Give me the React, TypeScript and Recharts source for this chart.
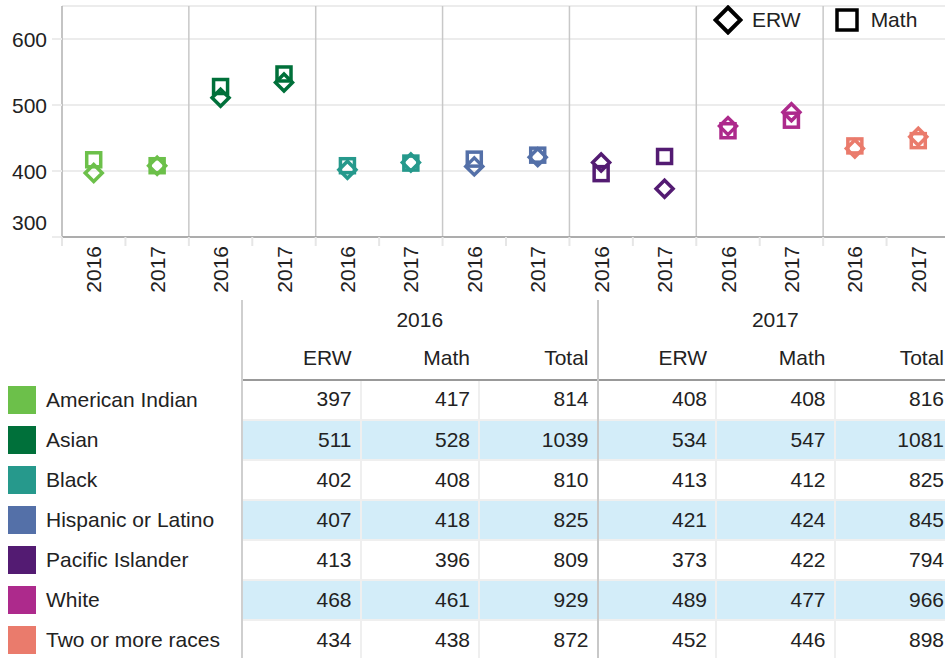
import React from 'react'
import { ScatterChart, Scatter, XAxis, YAxis, CartesianGrid, ReferenceLine, Legend } from 'recharts'

const groups = ['American Indian', 'Asian', 'Black', 'Hispanic or Latino', 'Pacific Islander', 'White', 'Two or more races']
const groupColors = ['#6cc04a', '#00703a', '#26998c', '#5470a8', '#531b72', '#ad2a8c', '#ea7b6c']
const years = ['2016', '2017']
const erw2016 = [397, 511, 402, 407, 413, 468, 434]
const math2016 = [417, 528, 408, 418, 396, 461, 438]
const total2016 = [814, 1039, 810, 825, 809, 929, 872]
const erw2017 = [408, 534, 413, 421, 373, 489, 452]
const math2017 = [408, 547, 412, 424, 422, 477, 446]
const total2017 = [816, 1081, 825, 845, 794, 966, 898]
const yTicks = [300, 400, 500, 600]
const subHeaders = ['ERW', 'Math', 'Total']

const W = 945
const CHART_W = 950
const CHART_H = 300
const Y_AXIS_W = 62
const BAND = (CHART_W - Y_AXIS_W) / (groups.length * years.length)
const FONT = '"Liberation Sans", Arial, sans-serif'
const FS = 21
const TEXT = '#222'

const erwByYear = [erw2016, erw2017]
const mathByYear = [math2016, math2017]

const erwPoints = groups.flatMap((_, g) =>
  years.map((_, yi) => ({ x: g * 2 + yi + 0.5, y: erwByYear[yi][g], color: groupColors[g] }))
)
const mathPoints = groups.flatMap((_, g) =>
  years.map((_, yi) => ({ x: g * 2 + yi + 0.5, y: mathByYear[yi][g], color: groupColors[g] }))
)
const xTicks = groups.flatMap((_, g) => years.map((_, yi) => g * 2 + yi + 0.5))
const separators = groups.slice(1).map((_, g) => (g + 1) * 2)

const Diamond = (props: any) => {
  const { cx, cy, payload } = props
  const r = 8.5
  return (
    <polygon
      points={`${cx},${cy - r} ${cx + r},${cy} ${cx},${cy + r} ${cx - r},${cy}`}
      fill="none"
      stroke={payload.color}
      strokeWidth={3.5}
    />
  )
}

const Square = (props: any) => {
  const { cx, cy, payload } = props
  const h = 7
  return <rect x={cx - h} y={cy - h} width={h * 2} height={h * 2} fill="none" stroke={payload.color} strokeWidth={3.5} />
}

const XTick = (props: any) => {
  const { x, payload, index } = props
  const yi = Math.round(payload.value - 0.5) % 2
  const axisY = CHART_H - 63
  return (
    <g>
      <line x1={x - BAND / 2} x2={x - BAND / 2} y1={axisY} y2={axisY + 9} stroke="#e6e6e6" strokeWidth={2} />
      {index === xTicks.length - 1 && (
        <line x1={x + BAND / 2} x2={x + BAND / 2} y1={axisY} y2={axisY + 9} stroke="#e6e6e6" strokeWidth={2} />
      )}
      <text
        x={x}
        y={axisY + 9}
        transform={`rotate(-90, ${x}, ${axisY + 9})`}
        textAnchor="end"
        dy="0.36em"
        fontSize={FS}
        fontFamily={FONT}
        fill={TEXT}
      >
        {years[yi]}
      </text>
    </g>
  )
}

const YTick = (props: any) => {
  const { x, y, payload } = props
  const shift = payload.value === 300 ? -15 : 0
  return (
    <text x={x} y={y + shift} textAnchor="end" dy="0.36em" fontSize={FS} fontFamily={FONT} fill={TEXT}>
      {payload.value}
    </text>
  )
}

const LegendContent = () => (
  <div style={{ display: 'flex', alignItems: 'center', fontFamily: FONT, fontSize: FS, color: TEXT }}>
    <svg width={30} height={30} style={{ marginRight: 9 }}>
      <polygon points="15,2.5 27.5,15 15,27.5 2.5,15" fill="none" stroke="#000" strokeWidth={4} />
    </svg>
    <span style={{ marginRight: 34 }}>ERW</span>
    <svg width={24} height={24} style={{ marginRight: 12 }}>
      <rect x={2} y={2} width={20} height={20} fill="none" stroke="#000" strokeWidth={3.5} />
    </svg>
    <span>Math</span>
  </div>
)

const COL_W = 118.5
const TABLE_LEFT = 242
const ROW_H = 40
const HEAD_H = 80

function DataTable() {
  const rows = groups.map((_, g) => [erw2016[g], math2016[g], total2016[g], erw2017[g], math2017[g], total2017[g]])
  return (
    <div style={{ position: 'absolute', left: 0, top: CHART_H, width: W, height: 358, fontFamily: FONT, fontSize: FS, color: TEXT }}>
      {years.map((yr, yi) => (
        <div
          key={yr}
          style={{ position: 'absolute', left: TABLE_LEFT + yi * 3 * COL_W, top: 0, width: 3 * COL_W, height: 40, lineHeight: '40px', textAlign: 'center' }}
        >
          {yr}
        </div>
      ))}
      {years.flatMap((yr, yi) =>
        subHeaders.map((h, hi) => (
          <div
            key={yr + h}
            style={{ position: 'absolute', left: TABLE_LEFT + (yi * 3 + hi) * COL_W, top: 38, width: COL_W - 9, height: 40, lineHeight: '40px', textAlign: 'right' }}
          >
            {h}
          </div>
        ))
      )}
      <div style={{ position: 'absolute', left: TABLE_LEFT, top: HEAD_H, width: W - TABLE_LEFT, height: ROW_H * rows.length, background: '#efefef' }} />
      {rows.map((vals, r) => (
        <React.Fragment key={groups[r]}>
          <div style={{ position: 'absolute', left: 8, top: HEAD_H + r * ROW_H + 6, width: 28, height: 28, background: groupColors[r] }} />
          <div style={{ position: 'absolute', left: 46, top: HEAD_H + r * ROW_H, height: ROW_H, lineHeight: '40px', whiteSpace: 'nowrap' }}>
            {groups[r]}
          </div>
          {vals.map((v, c) => (
            <div
              key={c}
              style={{
                position: 'absolute',
                left: TABLE_LEFT + c * COL_W + 1,
                top: HEAD_H + r * ROW_H + (r === 0 ? 0 : 1),
                width: COL_W - 2,
                height: r === 0 ? ROW_H - 1 : ROW_H - 2,
                lineHeight: `${ROW_H - 2}px`,
                background: r % 2 === 1 ? '#d3edf9' : '#ffffff',
                textAlign: 'right',
                paddingRight: 8,
                boxSizing: 'border-box',
              }}
            >
              {v}
            </div>
          ))}
        </React.Fragment>
      ))}
      <div style={{ position: 'absolute', left: TABLE_LEFT, top: HEAD_H - 1, width: W - TABLE_LEFT, height: 1.5, background: '#999' }} />
      <div style={{ position: 'absolute', left: TABLE_LEFT - 1, top: 0, width: 2, height: 358, background: '#cfcfcf' }} />
      <div style={{ position: 'absolute', left: TABLE_LEFT + 3 * COL_W - 1, top: 0, width: 2, height: 358, background: '#c8c8c8' }} />
    </div>
  )
}

export default function App() {
  return (
    <div style={{ position: 'absolute', left: 0, top: 0, width: W, height: 658, overflow: 'hidden', background: '#fff' }}>
      <ScatterChart width={CHART_W} height={CHART_H} margin={{ top: 6, right: 0, bottom: 0, left: 0 }}>
        <CartesianGrid horizontal vertical={false} stroke="#ececec" strokeWidth={2} />
        <XAxis
          type="number"
          dataKey="x"
          domain={[0, groups.length * years.length]}
          ticks={xTicks}
          interval={0}
          height={63}
          tickLine={false}
          axisLine={{ stroke: '#999', strokeWidth: 1.5 }}
          tick={<XTick />}
        />
        <XAxis xAxisId="top" orientation="top" type="number" domain={[0, 14]} height={0} tick={false} tickLine={false} axisLine={{ stroke: '#aaa', strokeWidth: 1.5 }} />
        <YAxis
          type="number"
          dataKey="y"
          domain={[300, 650]}
          ticks={yTicks}
          width={Y_AXIS_W}
          tickSize={10}
          tickMargin={5}
          tickLine={{ stroke: '#ececec', strokeWidth: 2 }}
          axisLine={{ stroke: '#b0b0b0', strokeWidth: 1.5 }}
          tick={<YTick />}
        />
        {separators.map((s) => (
          <ReferenceLine key={s} x={s} stroke="#c8c8c8" strokeWidth={1.5} />
        ))}
        <Legend
          layout="horizontal"
          verticalAlign="middle"
          align="center"
          wrapperStyle={{ position: 'absolute', top: 5, left: 713, width: 232, height: 30 }}
          content={<LegendContent />}
        />
        <Scatter name="Math" data={mathPoints} shape={<Square />} isAnimationActive={false} />
        <Scatter name="ERW" data={erwPoints} shape={<Diamond />} isAnimationActive={false} />
      </ScatterChart>
      <DataTable />
    </div>
  )
}
